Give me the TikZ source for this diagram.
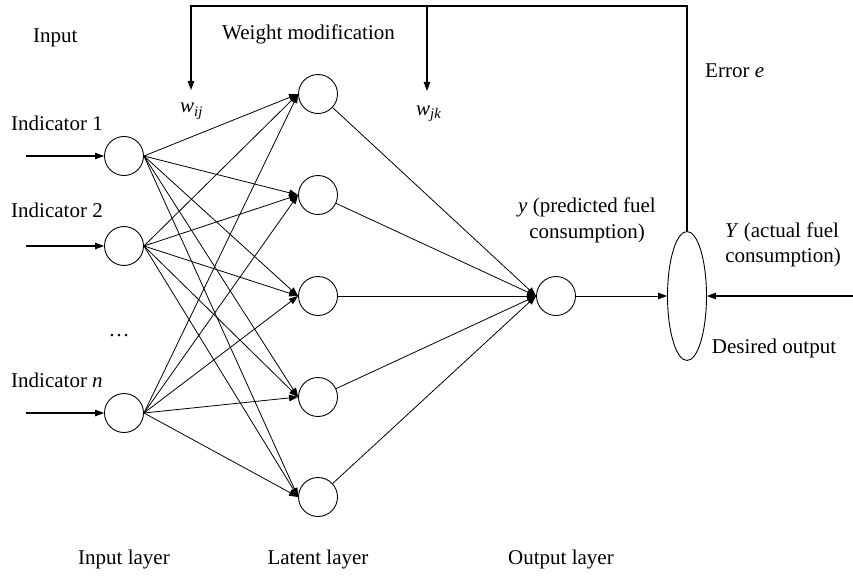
\documentclass[tikz,border=0pt]{standalone}
\usepackage{fontspec}
\setmainfont{Liberation Serif}
\usetikzlibrary{arrows.meta,shapes.geometric}
\begin{document}
\begin{tikzpicture}[x=1pt,y=-1pt,
  neuron/.style={circle,draw,line width=0.9pt,minimum size=39pt,inner sep=0pt},
  conn/.style={line width=0.8pt,-{Triangle[length=9pt,width=6.5pt]}},
  thick conn/.style={line width=1.1pt,-{Triangle[length=9pt,width=6.5pt]}},
  lbl/.style={font=\fontsize{21}{26}\selectfont,inner sep=0pt},
]
\useasboundingbox (0,0) rectangle (853,575);

% input layer
\node[neuron] (i1) at (124,156) {};
\node[neuron] (i2) at (124,246) {};
\node[neuron] (i3) at (124,413) {};
% latent layer
\node[neuron] (h1) at (318,94) {};
\node[neuron] (h2) at (318,195) {};
\node[neuron] (h3) at (318,296) {};
\node[neuron] (h4) at (318,397) {};
\node[neuron] (h5) at (318,497) {};
% output
\node[neuron] (o) at (556,296) {};
\node[ellipse,draw,line width=0.9pt,minimum width=39pt,minimum height=129pt,inner sep=0pt] (e) at (687,296) {};

% input arrows
\coordinate (s1) at (26,156);
\coordinate (s2) at (26,246);
\coordinate (s3) at (26,413);
\coordinate (sy) at (853,296);
\draw[thick conn] (s1) -- (i1.west);
\draw[thick conn] (s2) -- (i2.west);
\draw[thick conn] (s3) -- (i3.west);

% input to latent
\foreach \i in {i1,i2,i3}{
  \foreach \h in {h1,h2,h3,h4,h5}{
    \draw[conn] (\i.east) -- (\h.west);
  }
}
% latent to output
\foreach \h in {h1,h2,h3,h4,h5}{
  \draw[conn] (\h) -- (o.west);
}
\draw[conn] (o.east) -- (e.west);
\draw[thick conn] (sy) -- (e.east);

% feedback
\coordinate (tr) at (687,6);
\coordinate (tl) at (191,6);
\coordinate (wa) at (191,90);
\coordinate (tm) at (427,6);
\coordinate (wb) at (427,91);
\draw[thick conn] (e.north) -- (tr) -- (tl) -- (wa);
\draw[thick conn] (tm) -- (wb);

% labels
\node[lbl,anchor=base west] (tInput) at (33,43) {Input};
\node[lbl,anchor=base west] (tWeight) at (222,40) {Weight modification};
\node[lbl,anchor=base west] (tWij) at (180,113) {\textit{w}\textsubscript{\textit{ij}}};
\node[lbl,anchor=base west] (tWjk) at (416,115) {\textit{w}\textsubscript{\textit{jk}}};
\node[lbl,anchor=base west] (tErr) at (705,78) {Error \textit{e}};
\node[lbl,anchor=base west] (tI1) at (11,130) {Indicator 1};
\node[lbl,anchor=base west] (tI2) at (11,217) {Indicator 2};
\node[lbl,anchor=base west] (tIn) at (11,387) {Indicator \textit{n}};
\node[lbl,anchor=base] (tDots) at (119,336) {…};
\node[lbl,anchor=base] (tPred1) at (587,212) {\textit{y} (predicted fuel};
\node[lbl,anchor=base] (tPred2) at (587,238) {consumption)};
\node[lbl,anchor=base] (tAct1) at (782,237) {\textit{Y} (actual fuel};
\node[lbl,anchor=base] (tAct2) at (783,262) {consumption)};
\node[lbl,anchor=base] (tDes) at (774,353) {Desired output};
\node[lbl,anchor=base] (tL1) at (124,564) {Input layer};
\node[lbl,anchor=base] (tL2) at (318,564) {Latent layer};
\node[lbl,anchor=base] (tL3) at (561,564) {Output layer};
\end{tikzpicture}
\end{document}
